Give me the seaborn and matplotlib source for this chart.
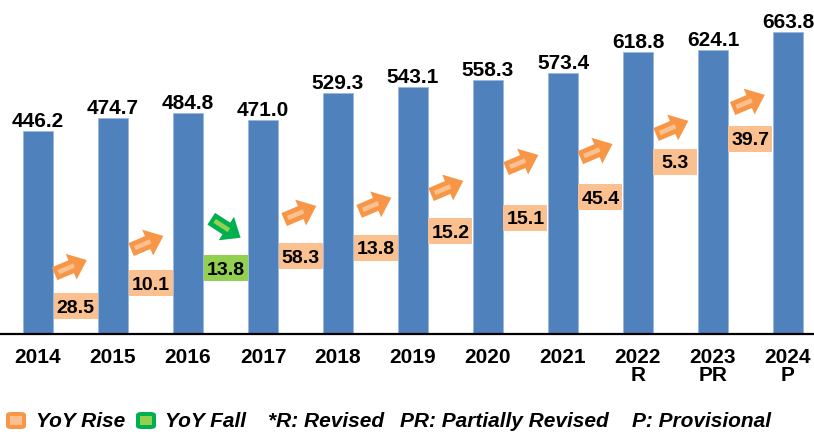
import numpy as np
import pandas as pd
import matplotlib
matplotlib.use('Agg')
import matplotlib.pyplot as plt
import matplotlib.patches as mpatches
import matplotlib.transforms as mtransforms
import seaborn as sns

# Data
years = ['2014', '2015', '2016', '2017', '2018', '2019', '2020', '2021', '2022', '2023', '2024']
status = ['', '', '', '', '', '', '', '', 'R', 'PR', 'P']
values = [446.2, 474.7, 484.8, 471.0, 529.3, 543.1, 558.3, 573.4, 618.8, 624.1, 663.8]
yoy_change = [28.5, 10.1, -13.8, 58.3, 13.8, 15.2, 15.1, 45.4, 5.3, 39.7]

# Layout of the YoY call-outs (data units on the y axis)
box_y = [61, 112, 145, 171, 189, 226, 255, 301, 378, 429]
arrow_y = [147, 200, 233, 266, 284, 321, 378, 402, 453, 510]
arrow_dx = [-0.07, -0.05, 0.0, -0.01, -0.01, -0.05, -0.05, -0.06, -0.05, -0.03]

BLUE = '#4F81BD'
ORANGE, ORANGE_LT = '#F79646', '#FAC090'
GREEN, GREEN_LT = '#00B050', '#92D050'

sns.set_style('white')
plt.rcParams['font.family'] = ['Liberation Sans', 'DejaVu Sans']

df = pd.DataFrame({'year': [y + ('\n' + s if s else '') for y, s in zip(years, status)],
                   'value': values})

fig = plt.figure(figsize=(8.14, 4.36), dpi=100)
ax = fig.add_axes([0.0, 0.234, 1.0, 0.7305])
sns.barplot(data=df, x='year', y='value', color=BLUE, saturation=1, width=0.4,
            edgecolor='#9DB7DC', linewidth=0.6, ax=ax)
ax.bar_label(ax.containers[0], labels=[f'{v:.1f}' for v in values], padding=0,
             fontsize=15, fontweight='bold', color='black')

ax.set_xlim(-0.507, 10.347)
ax.set_ylim(0, 700)
ax.set_xlabel('')
ax.set_ylabel('')
ax.set_yticks([])
for s in ['top', 'left', 'right']:
    ax.spines[s].set_visible(False)
ax.spines['bottom'].set_color('black')
ax.spines['bottom'].set_linewidth(1.6)
ax.tick_params(axis='x', length=0, pad=10, labelsize=15, labelcolor='black')
for lab in ax.get_xticklabels():
    lab.set_fontweight('bold')
    lab.set_linespacing(0.95)


def arrow_patches(x, y, ang, dark, light):
    tr = (mtransforms.Affine2D().rotate_deg(ang)
          + mtransforms.ScaledTranslation(x, y, ax.transData))
    L0, L1, hb, hw, sw = -17, 18, 1, 14, 7
    body = mpatches.Polygon([(L0, -sw), (hb, -sw), (hb, -hw), (L1, 0), (hb, hw), (hb, sw), (L0, sw)],
                            closed=True, facecolor=dark, edgecolor='none', transform=tr, clip_on=False)
    stripe = mpatches.Rectangle((-13, -2.3), 17, 4.6, facecolor=light, edgecolor='none',
                                transform=tr, clip_on=False)
    ax.add_artist(body)
    ax.add_artist(stripe)


for i, ch in enumerate(yoy_change):
    xc = i + 0.5
    rise = ch >= 0
    arrow_patches(xc + arrow_dx[i], arrow_y[i], 23 if rise else -33,
                  ORANGE if rise else GREEN, ORANGE_LT if rise else GREEN_LT)
    tr = mtransforms.ScaledTranslation(xc, box_y[i], ax.transData)
    ax.add_artist(mpatches.Rectangle((-22, -13), 44, 26, facecolor=ORANGE_LT if rise else GREEN_LT,
                                     edgecolor='none', transform=tr, clip_on=False))
    ax.text(xc, box_y[i], f'{abs(ch):.1f}', ha='center', va='center_baseline',
            fontsize=14, fontweight='bold', color='black', zorder=5)

# Legend row
W, H = 814, 436


def legend_square(x0, dark, light):
    y0 = H - 429
    fig.add_artist(mpatches.FancyBboxPatch((x0 / W, y0 / H), 20 / W, 17 / H,
                                           boxstyle='round,pad=0,rounding_size=0.007',
                                           facecolor=dark, edgecolor='none',
                                           transform=fig.transFigure))
    fig.add_artist(mpatches.Rectangle(((x0 + 4) / W, (y0 + 4) / H), 12 / W, 9 / H,
                                      facecolor=light, edgecolor='none',
                                      transform=fig.transFigure))


legend_square(6, ORANGE, ORANGE_LT)
legend_square(136, GREEN, GREEN_LT)
legend_items = [(36, 'YoY Rise'), (165, 'YoY Fall'), (268, '*R: Revised'),
                (400, 'PR: Partially Revised'), (632, 'P: Provisional')]
for x0, txt in legend_items:
    fig.text(x0 / W, (H - 421) / H, txt, ha='left', va='center', fontsize=15,
             fontweight='bold', fontstyle='italic', color='black')

fig.savefig('out.png', dpi=100)
